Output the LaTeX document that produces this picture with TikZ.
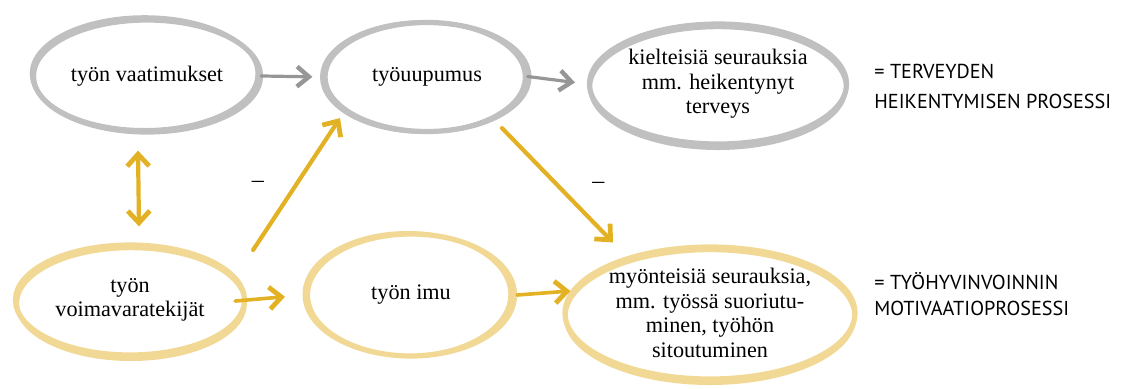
\documentclass[tikz,border=0pt]{standalone}
\usepackage{fontspec}
\setmainfont{Liberation Serif}
\newfontfamily\labelfont{PT Sans}
\usetikzlibrary{shapes.geometric,arrows.meta,calc}
\definecolor{ringgray}{RGB}{192,192,192}
\definecolor{arrowgray}{RGB}{150,150,150}
\definecolor{ringyellow}{RGB}{241,216,148}
\definecolor{arrowyellow}{RGB}{226,178,36}
\begin{document}
\begin{tikzpicture}[x=0.5pt, y=-0.5pt,
    main/.style = {ellipse, line width=2.6pt, align=center, inner sep=0pt, font=\fontsize{11.1}{12.3}\selectfont},
    negring/.style = {main, draw=ringgray},
    posring/.style = {main, draw=ringyellow},
    garrow/.style = {arrowgray, line width=1.6pt, line cap=round, -{Straight Barb[length=6pt, width=10pt, line width=2.2pt]}},
    yarrow/.style = {arrowyellow, line width=2.1pt, line cap=round, -{Straight Barb[length=6pt, width=11pt, line width=2.4pt]}},
    side/.style = {anchor=west, inner sep=0pt, align=left}]
    \useasboundingbox (0,0) rectangle (1124,388);

    \node[negring, minimum width=113.5pt, minimum height=56pt] (vaat) at (147,76) {työn vaatimukset};
    \node[negring, minimum width=102pt, minimum height=54.5pt] (uup) at (427,77) {\raisebox{3pt}{työuupumus}};
    \node[negring, minimum width=128.5pt, minimum height=60pt] (kiel) at (718,84) {kielteisiä seurauksia\\mm. heikentynyt\\terveys};
    \node[posring, minimum width=114.5pt, minimum height=55pt] (voim) at (130,300) {työn\\voimavaratekijät};
    \node[posring, minimum width=103.5pt, minimum height=61pt] (imu) at (411,295) {työn imu};
    \node[posring, minimum width=145pt, minimum height=66pt] (myon) at (710,313) {myönteisiä seurauksia,\\mm. työssä suoriutu-\\minen, työhön\\sitoutuminen};

    \node[side, font=\labelfont\fontsize{10.1}{15}\selectfont] (terv) at (874,86) {= TERVEYDEN\\HEIKENTYMISEN PROSESSI};
    \node[side, font=\labelfont\fontsize{10.1}{13}\selectfont] (motiv) at (874,294) {= TYÖHYVINVOINNIN\\MOTIVAATIOPROSESSI};

    % second stroke for the brush look (anchors sit 1.3pt outside the border)
    \foreach \nd/\c/\dx/\dy in {vaat/ringgray/-1.2/1.2, uup/ringgray/-1.8/0, kiel/ringgray/0/-1.8,
                                voim/ringyellow/0.5/-1.8, imu/ringyellow/-1.8/0.3, myon/ringyellow/0/-1.8}
        \draw[\c, line width=2pt] let \p1 = ($(\nd.east)-(\nd.center)$), \p2 = ($(\nd.north)-(\nd.center)$) in
            ([shift={(\dx pt,\dy pt)}]\nd.center) ellipse [x radius=\x1-1.6pt, y radius=\y2-1.1pt];

    \draw[garrow, shorten <=-1pt, shorten >=5pt] (vaat.east) -- (uup.west);
    \draw[garrow, shorten <=-2pt, shorten >=6pt] (uup.east) -- (kiel.west);
    \draw[yarrow, {Straight Barb[length=6pt, width=11pt, line width=2.4pt]}-{Straight Barb[length=6pt, width=11pt, line width=2.4pt]}]
        ([xshift=-4.5pt, yshift=-8pt]vaat.south) -- ([xshift=4.5pt, yshift=8pt]voim.north);
    \draw[yarrow] ([xshift=3pt, yshift=25pt]voim.east) -- node[midway, left=12pt, black, font=\fontsize{12}{12}\selectfont] {–} ([xshift=-43.5pt, yshift=8pt]uup.south);
    \draw[yarrow] ([xshift=37.5pt, yshift=3pt]uup.south) -- node[midway, right=13pt, black, font=\fontsize{12}{12}\selectfont] {–} ([xshift=-48.5pt, yshift=1pt]myon.north);
    \draw[yarrow, line width=1.8pt, shorten <=-6pt, shorten >=10pt] (voim.east) -- (imu.west);
    \draw[yarrow, line width=1.8pt] (imu.east) -- ([xshift=4pt, yshift=11pt]myon.west);
\end{tikzpicture}
\end{document}
